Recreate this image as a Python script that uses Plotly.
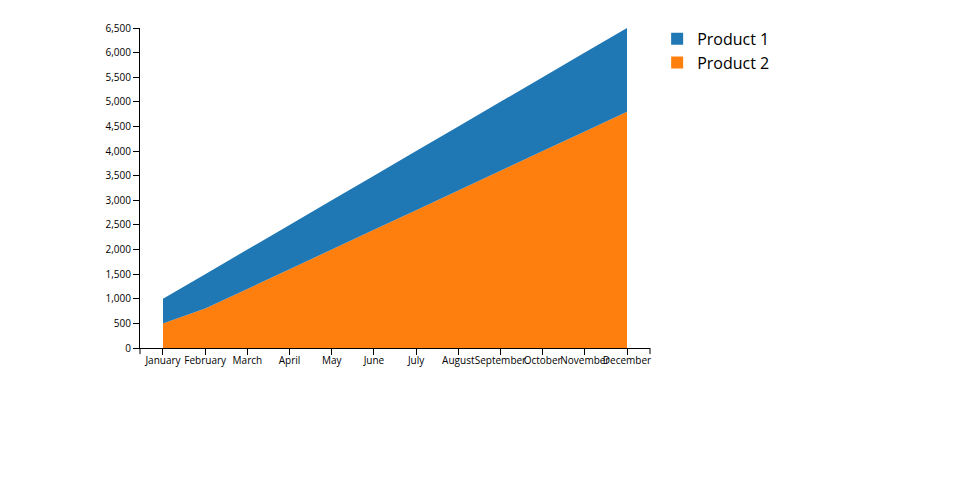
import plotly.graph_objects as go

months = ["January", "February", "March", "April", "May", "June", "July",
          "August", "September", "October", "November", "December"]
product1 = [500, 700, 800, 900, 1000, 1100, 1200, 1300, 1400, 1500, 1600, 1700]
product2 = [500, 800, 1200, 1600, 2000, 2400, 2800, 3200, 3600, 4000, 4400, 4800]
y_ticks = list(range(0, 6501, 500))

c1 = "#1f77b4"
c2 = "#ff7f0e"

fig = go.Figure()
fig.add_trace(go.Scatter(x=months, y=product2, name="Product 2", stackgroup="one",
                         mode="none", fillcolor=c2, showlegend=False, hoverinfo="x+y+name"))
fig.add_trace(go.Scatter(x=months, y=product1, name="Product 1", stackgroup="one",
                         mode="none", fillcolor=c1, showlegend=False, hoverinfo="x+y+name"))
# legend entries as squares
fig.add_trace(go.Scatter(x=[None], y=[None], name="Product 1", mode="markers",
                         marker=dict(symbol="square", size=13, color=c1)))
fig.add_trace(go.Scatter(x=[None], y=[None], name="Product 2", mode="markers",
                         marker=dict(symbol="square", size=13, color=c2)))

fig.update_layout(
    width=960, height=500,
    margin=dict(l=132, r=318, t=20, b=160, autoexpand=False),
    plot_bgcolor="white", paper_bgcolor="white",
    font=dict(family="Open Sans", size=10, color="#000"),
    legend=dict(x=1.014, y=1.019, xanchor="left", yanchor="top",
                font=dict(size=16, color="#000"), traceorder="normal",
                itemsizing="constant", tracegroupgap=0),
    xaxis=dict(type="category", range=[-0.545, 11.545], showline=True, linecolor="#000",
               linewidth=1, ticks="outside", ticklen=6, tickcolor="#000", tickangle=0,
               ticklabelstandoff=-3,
               showgrid=False, zeroline=False, tickfont=dict(size=10), automargin=False),
    yaxis=dict(range=[0, 6500], tickvals=y_ticks, tickformat=",", showline=True,
               linecolor="#000", linewidth=1, ticks="outside", ticklen=6,
               tickcolor="#000", showgrid=False, zeroline=False, tickfont=dict(size=10),
               automargin=False),
    shapes=[
        dict(type="line", xref="x domain", yref="y domain", x0=1, x1=1, y0=0, y1=-0.019,
             line=dict(color="#000", width=1)),
        dict(type="line", xref="x domain", yref="y domain", x0=0, x1=0, y0=0, y1=-0.019,
             line=dict(color="#000", width=1)),
    ],
)

fig.write_html("out.html")
